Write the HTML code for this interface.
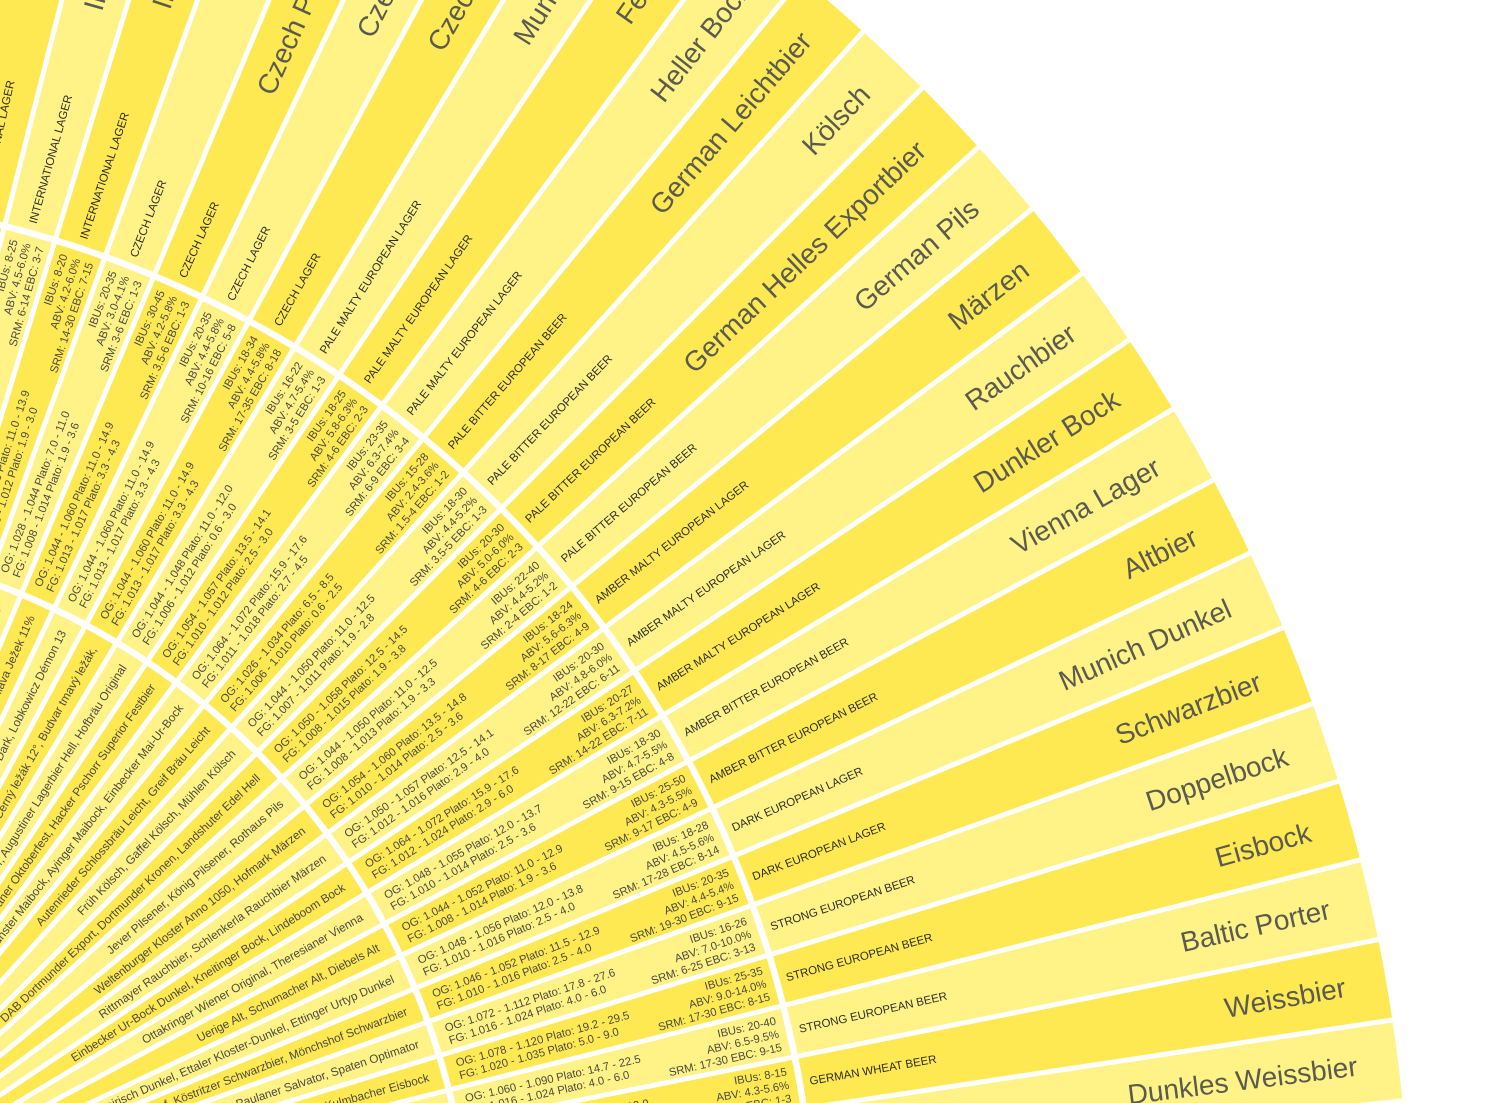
<!DOCTYPE html>
<html><head><meta charset="utf-8"><style>
html,body{margin:0;padding:0;background:#fff;overflow:hidden;width:1511px;height:1103px}
svg{display:block;overflow:hidden}
text{font-family:"Liberation Sans",Arial,sans-serif}
.n{font-size:28px;text-anchor:end;fill:#5a5a50}
.c{font-size:11.5px;fill:#2e2e2a}
.s{font-size:11.3px;text-anchor:end;fill:#4a4a42}
.o{font-size:11.3px;fill:#4a4a42}
.e{font-size:11.8px;text-anchor:end;fill:#4a4a42}
</style></head><body>
<svg width="1511" height="1103" viewBox="0 0 1511 1103" xmlns="http://www.w3.org/2000/svg">
<rect width="1511" height="1103" fill="#fff"/>
<g transform="translate(-260 1269) scale(1 -1)">
<circle r="1671" fill="#FFF286"/>
<path d="M900 0A900 900 0 0 1 -900 0" fill="none" stroke="#FFE952" stroke-width="1542" stroke-dasharray="43.982 43.982" stroke-dashoffset="41.312"/>
<g stroke="#fff" stroke-width="5">
<line x1="0" y1="0" x2="1720" y2="0" transform="rotate(2.97)"/>
<line x1="0" y1="0" x2="1720" y2="0" transform="rotate(5.77)"/>
<line x1="0" y1="0" x2="1720" y2="0" transform="rotate(8.57)"/>
<line x1="0" y1="0" x2="1720" y2="0" transform="rotate(11.37)"/>
<line x1="0" y1="0" x2="1720" y2="0" transform="rotate(14.17)"/>
<line x1="0" y1="0" x2="1720" y2="0" transform="rotate(16.97)"/>
<line x1="0" y1="0" x2="1720" y2="0" transform="rotate(19.77)"/>
<line x1="0" y1="0" x2="1720" y2="0" transform="rotate(22.57)"/>
<line x1="0" y1="0" x2="1720" y2="0" transform="rotate(25.37)"/>
<line x1="0" y1="0" x2="1720" y2="0" transform="rotate(28.17)"/>
<line x1="0" y1="0" x2="1720" y2="0" transform="rotate(30.97)"/>
<line x1="0" y1="0" x2="1720" y2="0" transform="rotate(33.77)"/>
<line x1="0" y1="0" x2="1720" y2="0" transform="rotate(36.57)"/>
<line x1="0" y1="0" x2="1720" y2="0" transform="rotate(39.37)"/>
<line x1="0" y1="0" x2="1720" y2="0" transform="rotate(42.17)"/>
<line x1="0" y1="0" x2="1720" y2="0" transform="rotate(44.97)"/>
<line x1="0" y1="0" x2="1720" y2="0" transform="rotate(47.77)"/>
<line x1="0" y1="0" x2="1720" y2="0" transform="rotate(50.57)"/>
<line x1="0" y1="0" x2="1720" y2="0" transform="rotate(53.37)"/>
<line x1="0" y1="0" x2="1720" y2="0" transform="rotate(56.17)"/>
<line x1="0" y1="0" x2="1720" y2="0" transform="rotate(58.97)"/>
<line x1="0" y1="0" x2="1720" y2="0" transform="rotate(61.77)"/>
<line x1="0" y1="0" x2="1720" y2="0" transform="rotate(64.57)"/>
<line x1="0" y1="0" x2="1720" y2="0" transform="rotate(67.37)"/>
<line x1="0" y1="0" x2="1720" y2="0" transform="rotate(70.17)"/>
<line x1="0" y1="0" x2="1720" y2="0" transform="rotate(72.97)"/>
<line x1="0" y1="0" x2="1720" y2="0" transform="rotate(75.77)"/>
<line x1="0" y1="0" x2="1720" y2="0" transform="rotate(78.57)"/>
<line x1="0" y1="0" x2="1720" y2="0" transform="rotate(81.37)"/>
</g>
<circle r="731" fill="none" stroke="#fff" stroke-width="6.5"/>
<circle r="1076" fill="none" stroke="#fff" stroke-width="6.5"/>
</g>

<g transform="translate(-260 1269)">

<g transform="rotate(-7.17)">
<text class="n" x="1630" y="10">Dunkles Weissbier</text>
<text class="c" x="1086" y="4">GERMAN WHEAT BEER</text>
<text class="s"><tspan x="1065" y="-9.45">IBUs: 10-18</tspan><tspan x="1065" y="4.05">ABV: 4.3-5.6%</tspan><tspan x="1065" y="17.55">SRM: 14-23 EBC: 7-12</tspan></text>
<text class="o"><tspan x="745" y="-2.45">OG: 1.044 - 1.056 Plato: 11.0 - 13.8</tspan><tspan x="745" y="10.55">FG: 1.010 - 1.014 Plato: 2.5 - 3.6</tspan></text>
<text class="e" x="715" y="4.2">Ayinger Ur-Weisse, Franziskaner Dunkel Hefe-Weisse</text>
</g>

<g transform="rotate(-9.97)">
<text class="n" x="1630" y="10">Weissbier</text>
<text class="c" x="1086" y="4">GERMAN WHEAT BEER</text>
<text class="s"><tspan x="1065" y="-9.45">IBUs: 8-15</tspan><tspan x="1065" y="4.05">ABV: 4.3-5.6%</tspan><tspan x="1065" y="17.55">SRM: 2-6 EBC: 1-3</tspan></text>
<text class="o"><tspan x="745" y="-2.45">OG: 1.044 - 1.052 Plato: 11.0 - 12.9</tspan><tspan x="745" y="10.55">FG: 1.010 - 1.014 Plato: 2.5 - 3.6</tspan></text>
<text class="e" x="715" y="4.2">Ayinger Bräu Weisse, Hacker-Pschorr Weisse, Paulaner Hefe-Weizen</text>
</g>

<g transform="rotate(-12.77)">
<text class="n" x="1630" y="10">Baltic Porter</text>
<text class="c" x="1086" y="4">STRONG EUROPEAN BEER</text>
<text class="s"><tspan x="1065" y="-9.45">IBUs: 20-40</tspan><tspan x="1065" y="4.05">ABV: 6.5-9.5%</tspan><tspan x="1065" y="17.55">SRM: 17-30 EBC: 9-15</tspan></text>
<text class="o"><tspan x="745" y="-2.45">OG: 1.060 - 1.090 Plato: 14.7 - 22.5</tspan><tspan x="745" y="10.55">FG: 1.016 - 1.024 Plato: 4.0 - 6.0</tspan></text>
<text class="e" x="715" y="4.2">Baltika #6 Porter, Sinebrychoff Porter, Żywiec Porter</text>
</g>

<g transform="rotate(-15.57)">
<text class="n" x="1630" y="10">Eisbock</text>
<text class="c" x="1086" y="4">STRONG EUROPEAN BEER</text>
<text class="s"><tspan x="1065" y="-9.45">IBUs: 25-35</tspan><tspan x="1065" y="4.05">ABV: 9.0-14.0%</tspan><tspan x="1065" y="17.55">SRM: 17-30 EBC: 8-15</tspan></text>
<text class="o"><tspan x="745" y="-2.45">OG: 1.078 - 1.120 Plato: 19.2 - 29.5</tspan><tspan x="745" y="10.55">FG: 1.020 - 1.035 Plato: 5.0 - 9.0</tspan></text>
<text class="e" x="715" y="4.2">Kulmbacher Eisbock</text>
</g>

<g transform="rotate(-18.37)">
<text class="n" x="1630" y="10">Doppelbock</text>
<text class="c" x="1086" y="4">STRONG EUROPEAN BEER</text>
<text class="s"><tspan x="1065" y="-9.45">IBUs: 16-26</tspan><tspan x="1065" y="4.05">ABV: 7.0-10.0%</tspan><tspan x="1065" y="17.55">SRM: 6-25 EBC: 3-13</tspan></text>
<text class="o"><tspan x="745" y="-2.45">OG: 1.072 - 1.112 Plato: 17.8 - 27.6</tspan><tspan x="745" y="10.55">FG: 1.016 - 1.024 Plato: 4.0 - 6.0</tspan></text>
<text class="e" x="715" y="4.2">Ayinger Celebrator, Paulaner Salvator, Spaten Optimator</text>
</g>

<g transform="rotate(-21.17)">
<text class="n" x="1630" y="10">Schwarzbier</text>
<text class="c" x="1086" y="4">DARK EUROPEAN LAGER</text>
<text class="s"><tspan x="1065" y="-9.45">IBUs: 20-35</tspan><tspan x="1065" y="4.05">ABV: 4.4-5.4%</tspan><tspan x="1065" y="17.55">SRM: 19-30 EBC: 9-15</tspan></text>
<text class="o"><tspan x="745" y="-2.45">OG: 1.046 - 1.052 Plato: 11.5 - 12.9</tspan><tspan x="745" y="10.55">FG: 1.010 - 1.016 Plato: 2.5 - 4.0</tspan></text>
<text class="e" x="715" y="4.2">Kulmbacher Mönchshof, Köstritzer Schwarzbier, Mönchshof Schwarzbier</text>
</g>

<g transform="rotate(-23.97)">
<text class="n" x="1630" y="10">Munich Dunkel</text>
<text class="c" x="1086" y="4">DARK EUROPEAN LAGER</text>
<text class="s"><tspan x="1065" y="-9.45">IBUs: 18-28</tspan><tspan x="1065" y="4.05">ABV: 4.5-5.6%</tspan><tspan x="1065" y="17.55">SRM: 17-28 EBC: 8-14</tspan></text>
<text class="o"><tspan x="745" y="-2.45">OG: 1.048 - 1.056 Plato: 12.0 - 13.8</tspan><tspan x="745" y="10.55">FG: 1.010 - 1.016 Plato: 2.5 - 4.0</tspan></text>
<text class="e" x="715" y="4.2">Ayinger Altbairisch Dunkel, Ettaler Kloster-Dunkel, Ettinger Urtyp Dunkel</text>
</g>

<g transform="rotate(-26.77)">
<text class="n" x="1630" y="10">Altbier</text>
<text class="c" x="1086" y="4">AMBER BITTER EUROPEAN BEER</text>
<text class="s"><tspan x="1065" y="-9.45">IBUs: 25-50</tspan><tspan x="1065" y="4.05">ABV: 4.3-5.5%</tspan><tspan x="1065" y="17.55">SRM: 9-17 EBC: 4-9</tspan></text>
<text class="o"><tspan x="745" y="-2.45">OG: 1.044 - 1.052 Plato: 11.0 - 12.9</tspan><tspan x="745" y="10.55">FG: 1.008 - 1.014 Plato: 1.9 - 3.6</tspan></text>
<text class="e" x="715" y="4.2">Uerige Alt, Schumacher Alt, Diebels Alt</text>
</g>

<g transform="rotate(-29.57)">
<text class="n" x="1630" y="10">Vienna Lager</text>
<text class="c" x="1086" y="4">AMBER BITTER EUROPEAN BEER</text>
<text class="s"><tspan x="1065" y="-9.45">IBUs: 18-30</tspan><tspan x="1065" y="4.05">ABV: 4.7-5.5%</tspan><tspan x="1065" y="17.55">SRM: 9-15 EBC: 4-8</tspan></text>
<text class="o"><tspan x="745" y="-2.45">OG: 1.048 - 1.055 Plato: 12.0 - 13.7</tspan><tspan x="745" y="10.55">FG: 1.010 - 1.014 Plato: 2.5 - 3.6</tspan></text>
<text class="e" x="715" y="4.2">Ottakringer Wiener Original, Theresianer Vienna</text>
</g>

<g transform="rotate(-32.37)">
<text class="n" x="1630" y="10">Dunkler Bock</text>
<text class="c" x="1086" y="4">AMBER MALTY EUROPEAN LAGER</text>
<text class="s"><tspan x="1065" y="-9.45">IBUs: 20-27</tspan><tspan x="1065" y="4.05">ABV: 6.3-7.2%</tspan><tspan x="1065" y="17.55">SRM: 14-22 EBC: 7-11</tspan></text>
<text class="o"><tspan x="745" y="-2.45">OG: 1.064 - 1.072 Plato: 15.9 - 17.6</tspan><tspan x="745" y="10.55">FG: 1.012 - 1.024 Plato: 2.9 - 6.0</tspan></text>
<text class="e" x="715" y="4.2">Einbecker Ur-Bock Dunkel, Kneitinger Bock, Lindeboom Bock</text>
</g>

<g transform="rotate(-35.17)">
<text class="n" x="1630" y="10">Rauchbier</text>
<text class="c" x="1086" y="4">AMBER MALTY EUROPEAN LAGER</text>
<text class="s"><tspan x="1065" y="-9.45">IBUs: 20-30</tspan><tspan x="1065" y="4.05">ABV: 4.8-6.0%</tspan><tspan x="1065" y="17.55">SRM: 12-22 EBC: 6-11</tspan></text>
<text class="o"><tspan x="745" y="-2.45">OG: 1.050 - 1.057 Plato: 12.5 - 14.1</tspan><tspan x="745" y="10.55">FG: 1.012 - 1.016 Plato: 2.9 - 4.0</tspan></text>
<text class="e" x="715" y="4.2">Rittmayer Rauchbier, Schlenkerla Rauchbier Märzen</text>
</g>

<g transform="rotate(-37.97)">
<text class="n" x="1630" y="10">Märzen</text>
<text class="c" x="1086" y="4">AMBER MALTY EUROPEAN LAGER</text>
<text class="s"><tspan x="1065" y="-9.45">IBUs: 18-24</tspan><tspan x="1065" y="4.05">ABV: 5.6-6.3%</tspan><tspan x="1065" y="17.55">SRM: 8-17 EBC: 4-9</tspan></text>
<text class="o"><tspan x="745" y="-2.45">OG: 1.054 - 1.060 Plato: 13.5 - 14.8</tspan><tspan x="745" y="10.55">FG: 1.010 - 1.014 Plato: 2.5 - 3.6</tspan></text>
<text class="e" x="715" y="4.2">Weltenburger Kloster Anno 1050, Hofmark Märzen</text>
</g>

<g transform="rotate(-40.77)">
<text class="n" x="1630" y="10">German Pils</text>
<text class="c" x="1086" y="4">PALE BITTER EUROPEAN BEER</text>
<text class="s"><tspan x="1065" y="-9.45">IBUs: 22-40</tspan><tspan x="1065" y="4.05">ABV: 4.4-5.2%</tspan><tspan x="1065" y="17.55">SRM: 2-4 EBC: 1-2</tspan></text>
<text class="o"><tspan x="745" y="-2.45">OG: 1.044 - 1.050 Plato: 11.0 - 12.5</tspan><tspan x="745" y="10.55">FG: 1.008 - 1.013 Plato: 1.9 - 3.3</tspan></text>
<text class="e" x="715" y="4.2">Jever Pilsener, König Pilsener, Rothaus Pils</text>
</g>

<g transform="rotate(-43.57)">
<text class="n" x="1630" y="10">German Helles Exportbier</text>
<text class="c" x="1086" y="4">PALE BITTER EUROPEAN BEER</text>
<text class="s"><tspan x="1065" y="-9.45">IBUs: 20-30</tspan><tspan x="1065" y="4.05">ABV: 5.0-6.0%</tspan><tspan x="1065" y="17.55">SRM: 4-6 EBC: 2-3</tspan></text>
<text class="o"><tspan x="745" y="-2.45">OG: 1.050 - 1.058 Plato: 12.5 - 14.5</tspan><tspan x="745" y="10.55">FG: 1.008 - 1.015 Plato: 1.9 - 3.8</tspan></text>
<text class="e" x="715" y="4.2">DAB Dortmunder Export, Dortmunder Kronen, Landshuter Edel Hell</text>
</g>

<g transform="rotate(-46.37)">
<text class="n" x="1630" y="10">Kölsch</text>
<text class="c" x="1086" y="4">PALE BITTER EUROPEAN BEER</text>
<text class="s"><tspan x="1065" y="-9.45">IBUs: 18-30</tspan><tspan x="1065" y="4.05">ABV: 4.4-5.2%</tspan><tspan x="1065" y="17.55">SRM: 3.5-5 EBC: 1-3</tspan></text>
<text class="o"><tspan x="745" y="-2.45">OG: 1.044 - 1.050 Plato: 11.0 - 12.5</tspan><tspan x="745" y="10.55">FG: 1.007 - 1.011 Plato: 1.9 - 2.8</tspan></text>
<text class="e" x="715" y="4.2">Früh Kölsch, Gaffel Kölsch, Mühlen Kölsch</text>
</g>

<g transform="rotate(-49.17)">
<text class="n" x="1630" y="10">German Leichtbier</text>
<text class="c" x="1086" y="4">PALE BITTER EUROPEAN BEER</text>
<text class="s"><tspan x="1065" y="-9.45">IBUs: 15-28</tspan><tspan x="1065" y="4.05">ABV: 2.4-3.6%</tspan><tspan x="1065" y="17.55">SRM: 1.5-4 EBC: 1-2</tspan></text>
<text class="o"><tspan x="745" y="-2.45">OG: 1.026 - 1.034 Plato: 6.5 - 8.5</tspan><tspan x="745" y="10.55">FG: 1.006 - 1.010 Plato: 0.6 - 2.5</tspan></text>
<text class="e" x="715" y="4.2">Autenrieder Schlossbräu Leicht, Greif Bräu Leicht</text>
</g>

<g transform="rotate(-51.97)">
<text class="n" x="1630" y="10">Heller Bock</text>
<text class="c" x="1086" y="4">PALE MALTY EUROPEAN LAGER</text>
<text class="s"><tspan x="1065" y="-9.45">IBUs: 23-35</tspan><tspan x="1065" y="4.05">ABV: 6.3-7.4%</tspan><tspan x="1065" y="17.55">SRM: 6-9 EBC: 3-4</tspan></text>
<text class="o"><tspan x="745" y="-2.45">OG: 1.064 - 1.072 Plato: 15.9 - 17.6</tspan><tspan x="745" y="10.55">FG: 1.011 - 1.018 Plato: 2.7 - 4.5</tspan></text>
<text class="e" x="715" y="4.2">Altenmünster Maibock, Ayinger Maibock, Einbecker Mai-Ur-Bock</text>
</g>

<g transform="rotate(-54.77)">
<text class="n" x="1630" y="10">Festbier</text>
<text class="c" x="1086" y="4">PALE MALTY EUROPEAN LAGER</text>
<text class="s"><tspan x="1065" y="-9.45">IBUs: 18-25</tspan><tspan x="1065" y="4.05">ABV: 5.8-6.3%</tspan><tspan x="1065" y="17.55">SRM: 4-6 EBC: 2-3</tspan></text>
<text class="o"><tspan x="745" y="-2.45">OG: 1.054 - 1.057 Plato: 13.5 - 14.1</tspan><tspan x="745" y="10.55">FG: 1.010 - 1.012 Plato: 2.5 - 3.0</tspan></text>
<text class="e" x="715" y="4.2">Paulaner Oktoberfest, Hacker Pschorr Superior Festbier</text>
</g>

<g transform="rotate(-57.57)">
<text class="n" x="1630" y="10">Munich Helles</text>
<text class="c" x="1086" y="4">PALE MALTY EUROPEAN LAGER</text>
<text class="s"><tspan x="1065" y="-9.45">IBUs: 16-22</tspan><tspan x="1065" y="4.05">ABV: 4.7-5.4%</tspan><tspan x="1065" y="17.55">SRM: 3-5 EBC: 1-3</tspan></text>
<text class="o"><tspan x="745" y="-2.45">OG: 1.044 - 1.048 Plato: 11.0 - 12.0</tspan><tspan x="745" y="10.55">FG: 1.006 - 1.012 Plato: 0.6 - 3.0</tspan></text>
<text class="e" x="715" y="4.2">Paulaner Premium Lager, Augustiner Lagerbier Hell, Hofbräu Original</text>
</g>

<g transform="rotate(-60.37)">
<text class="n" x="1630" y="10">Czech Dark Lager</text>
<text class="c" x="1086" y="4">CZECH LAGER</text>
<text class="s"><tspan x="1065" y="-9.45">IBUs: 18-34</tspan><tspan x="1065" y="4.05">ABV: 4.4-5.8%</tspan><tspan x="1065" y="17.55">SRM: 17-35 EBC: 8-18</tspan></text>
<text class="o"><tspan x="745" y="-2.45">OG: 1.044 - 1.060 Plato: 11.0 - 14.9</tspan><tspan x="745" y="10.55">FG: 1.013 - 1.017 Plato: 3.3 - 4.3</tspan></text>
<text class="e" x="715" y="4.2">Kozel Dark, Herold Černý ležák 12°, Budvar tmavý ležák,</text>
</g>

<g transform="rotate(-63.17)">
<text class="n" x="1630" y="10">Czech Amber Lager</text>
<text class="c" x="1086" y="4">CZECH LAGER</text>
<text class="s"><tspan x="1065" y="-9.45">IBUs: 20-35</tspan><tspan x="1065" y="4.05">ABV: 4.4-5.8%</tspan><tspan x="1065" y="17.55">SRM: 10-16 EBC: 5-8</tspan></text>
<text class="o"><tspan x="745" y="-2.45">OG: 1.044 - 1.060 Plato: 11.0 - 14.9</tspan><tspan x="745" y="10.55">FG: 1.013 - 1.017 Plato: 3.3 - 4.3</tspan></text>
<text class="e" x="715" y="4.2">Bernard Jantarový, Kozel Semi-Dark, Lobkowicz Démon 13</text>
</g>

<g transform="rotate(-65.97)">
<text class="n" x="1630" y="10">Czech Premium Pale Lager</text>
<text class="c" x="1086" y="4">CZECH LAGER</text>
<text class="s"><tspan x="1065" y="-9.45">IBUs: 30-45</tspan><tspan x="1065" y="4.05">ABV: 4.2-5.8%</tspan><tspan x="1065" y="17.55">SRM: 3.5-6 EBC: 1-3</tspan></text>
<text class="o"><tspan x="745" y="-2.45">OG: 1.044 - 1.060 Plato: 11.0 - 14.9</tspan><tspan x="745" y="10.55">FG: 1.013 - 1.017 Plato: 3.3 - 4.3</tspan></text>
<text class="e" x="715" y="4.2">Pilsner Urquell, Pivovar Jihlava Ježek 11%</text>
</g>

<g transform="rotate(-68.77)">
<text class="n" x="1630" y="10">Czech Pale Lager</text>
<text class="c" x="1086" y="4">CZECH LAGER</text>
<text class="s"><tspan x="1065" y="-9.45">IBUs: 20-35</tspan><tspan x="1065" y="4.05">ABV: 3.0-4.1%</tspan><tspan x="1065" y="17.55">SRM: 3-6 EBC: 1-3</tspan></text>
<text class="o"><tspan x="745" y="-2.45">OG: 1.028 - 1.044 Plato: 7.0 - 11.0</tspan><tspan x="745" y="10.55">FG: 1.008 - 1.014 Plato: 1.9 - 3.6</tspan></text>
<text class="e" x="715" y="4.2">Březňák Světlé výčepní pivo, Únětické pivo 10°</text>
</g>

<g transform="rotate(-71.57)">
<text class="n" x="1630" y="10">International Dark Lager</text>
<text class="c" x="1086" y="4">INTERNATIONAL LAGER</text>
<text class="s"><tspan x="1065" y="-9.45">IBUs: 8-20</tspan><tspan x="1065" y="4.05">ABV: 4.2-6.0%</tspan><tspan x="1065" y="17.55">SRM: 14-30 EBC: 7-15</tspan></text>
<text class="o"><tspan x="745" y="-2.45">OG: 1.044 - 1.056 Plato: 11.0 - 13.9</tspan><tspan x="745" y="10.55">FG: 1.008 - 1.012 Plato: 1.9 - 3.0</tspan></text>
<text class="e" x="715" y="4.2">Shiner Bock, Baltika #4, Saint Pauli Girl Dark</text>
</g>

<g transform="rotate(-74.37)">
<text class="n" x="1630" y="10">International Amber Lager</text>
<text class="c" x="1086" y="4">INTERNATIONAL LAGER</text>
<text class="s"><tspan x="1065" y="-9.45">IBUs: 8-25</tspan><tspan x="1065" y="4.05">ABV: 4.5-6.0%</tspan><tspan x="1065" y="17.55">SRM: 6-14 EBC: 3-7</tspan></text>
<text class="o"><tspan x="745" y="-2.45">OG: 1.040 - 1.055 Plato: 10.0 - 13.6</tspan><tspan x="745" y="10.55">FG: 1.008 - 1.014 Plato: 1.9 - 3.6</tspan></text>
<text class="e" x="715" y="4.2">Brooklyn Lager, Yuengling Lager</text>
</g>

<g transform="rotate(-77.17)">
<text class="n" x="1630" y="10">International Pale Lager</text>
<text class="c" x="1086" y="4">INTERNATIONAL LAGER</text>
<text class="s"><tspan x="1065" y="-9.45">IBUs: 18-25</tspan><tspan x="1065" y="4.05">ABV: 4.6-6.0%</tspan><tspan x="1065" y="17.55">SRM: 2-6 EBC: 1-3</tspan></text>
<text class="o"><tspan x="745" y="-2.45">OG: 1.042 - 1.050 Plato: 10.5 - 12.4</tspan><tspan x="745" y="10.55">FG: 1.008 - 1.012 Plato: 2.0 - 3.0</tspan></text>
<text class="e" x="715" y="4.2">Heineken, Beck's, Stella Artois</text>
</g>

</g>
</svg>
</body></html>
